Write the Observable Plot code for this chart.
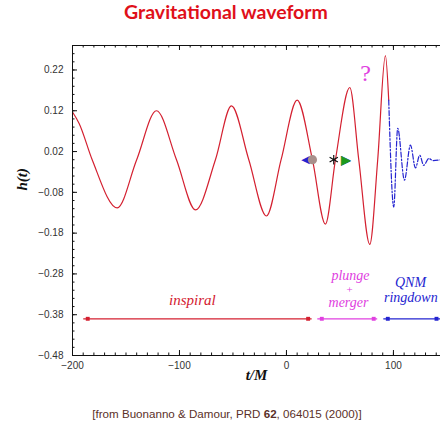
<!DOCTYPE html>
<html><head><meta charset="utf-8">
<script src="https://cdn.jsdelivr.net/npm/d3@7"></script>
<script src="https://cdn.jsdelivr.net/npm/@observablehq/plot@0.6"></script>
<style>
body{margin:0;background:#fff;overflow:hidden;width:440px;height:426px}
#title{height:26px;line-height:25px;text-align:center;font:bold 19.5px Lato,sans-serif;color:#e0101a;padding-left:12px}
#cap{margin-top:11px;line-height:13px;text-align:center;font:11.6px "Liberation Sans",Arial,sans-serif;color:#5a3028;padding-left:14px}
#chart svg{overflow:hidden;display:block}
</style></head><body>
<div id="title">Gravitational waveform</div>
<div id="chart"></div>
<div id="cap">[from Buonanno &amp; Damour, PRD <b>62</b>, 064015 (2000)]</div>
<script>
// inspiral + plunge waveform (red, solid): extrema and zero crossings
const inspiralT = [-200, -193.8, -181.6, -158.2, -140, -121.5, -102.8, -85, -66.4, -51.4, -35.2, -18.7, -5, 10, 24.3, 36.4, 45.8, 59.2, 67.6, 77.9, 85.3, 92.5, 95.6];
const inspiralH = [0.117, 0.089, 0, -0.118, 0, 0.12, 0, -0.123, 0, 0.132, 0, -0.138, 0, 0.146, 0, -0.158, 0, 0.177, 0, -0.2075, 0, 0.255, 0.146];
// QNM ringdown (blue, dash-dot)
const ringT = [95.6, 100.3, 104, 110.3, 115.9, 120.6, 124.6, 128.3, 133, 137, 144];
const ringH = [0.146, -0.116, 0.077, -0.05, 0.036, -0.02, 0.011, -0.014, 0.003, -0.002, 0];
// markers on the curve
const markT = [17.8, 24.3, 44.2, 55.5];
const markH = [0, 0, 0, 0];
// phase segments
const segStart = [-189.5, 29.3, 91];
const segEnd = [24, 85.3, 144];
const segH = [-0.39, -0.39, -0.39];
const segColor = ["#d42030", "#e040e0", "#2424d0"];
// phase labels
const labelText = ["inspiral", "plunge", "+", "merger", "QNM", "ringdown"];
const labelT = [-88, 59.8, 59, 58, 116, 91.2];
const labelH = [-0.345, -0.285, -0.318, -0.351, -0.302, -0.338];
const labelSize = [15, 14, 11, 14, 14, 14];
const labelColor = ["#d42030", "#e040e0", "#e040e0", "#e040e0", "#2424d0", "#2424d0"];
const labelAnchor = ["middle", "middle", "middle", "middle", "middle", "start"];
// ticks
const xMajor = [-200, -100, 0, 100];
const yMajor = [0.22, 0.12, 0.02, -0.08, -0.18, -0.28, -0.38, -0.48];
const xMinor = d3.range(-200, 145, 10);
const yMinor = d3.range(-0.48, 0.2801, 0.02);

const RED = "#d42030", BLUE = "#2424d0", MAG = "#e040e0";
const inspiral = inspiralT.map((t, i) => ({t, h: inspiralH[i]}));
const ring = ringT.map((t, i) => ({t, h: ringH[i]}));
const segs = segStart.map((s, i) => ({s, e: segEnd[i], h: segH[i], c: segColor[i]}));
const labels = labelText.map((s, i) => ({s, t: labelT[i], h: labelH[i], c: labelColor[i], a: labelAnchor[i], z: labelSize[i]}));
const IW = 440 - 72, IH = 310;
const labelMarks = labels.map(d => Plot.text([d], {x: "t", y: "h", text: "s", fill: "c", fontFamily: "'Liberation Serif', serif", fontStyle: "italic", fontSize: d.z, textAnchor: d.a}));

const chart = Plot.plot({
  width: 440, height: 370,
  marginLeft: 72, marginRight: 0, marginTop: 19, marginBottom: 41,
  x: {domain: [-200, 144]},
  y: {domain: [-0.48, 0.28]},
  style: {fontFamily: "'Liberation Sans', Arial, sans-serif", fontSize: "10px", color: "#333", background: "white", overflow: "hidden"},
  marks: [
    Plot.line(inspiral, {x: "t", y: "h", stroke: RED, strokeWidth: 1.2, curve: "monotone-x"}),
    Plot.line(ring, {x: "t", y: "h", stroke: BLUE, strokeWidth: 1.2, strokeDasharray: "5,2,1.5,2", curve: "monotone-x"}),
    // phase segments
    Plot.ruleY(segs, {y: "h", x1: "s", x2: "e", stroke: "c", strokeWidth: 1.2, clip: true}),
    Plot.dot(segs, {x: "s", y: "h", fill: "c", symbol: "square", r: 2.2, dx: 4}),
    Plot.dot(segs, {x: "e", y: "h", fill: "c", symbol: "square", r: 2.2, dx: -4}),
    ...labelMarks,
    // markers
    Plot.text([0], {x: () => markT[0], y: () => markH[0], text: () => "◀", fill: BLUE, fontSize: 11, fontFamily: "DejaVu Sans"}),
    Plot.dot([0], {x: () => markT[1], y: () => markH[1], r: 4.6, fill: "#a8908c"}),
    Plot.dot([0], {x: () => markT[2], y: () => markH[2], r: 4.5, symbol: "asterisk", stroke: "#111", strokeWidth: 1.2}),
    Plot.text([0], {x: () => markT[3], y: () => markH[3], text: () => "▶", fill: "#1c9a1c", stroke: "#0a3a0a", strokeWidth: 0.6, fontSize: 12, fontFamily: "DejaVu Sans"}),
    Plot.text([0], {x: () => 74, y: () => 0.213, text: () => "?", fill: MAG, fontSize: 24, fontFamily: "'Liberation Serif', serif"}),
    // frame
    Plot.ruleX([-200], {stroke: "#111"}),
    Plot.ruleY([-0.48, 0.28], {stroke: "#111"}),
    Plot.tickY(yMajor, {stroke: "#111", insetRight: IW - 5}),
    Plot.tickY(yMinor, {stroke: "#111", insetRight: IW - 2.5}),
    Plot.tickX(xMajor, {stroke: "#111", insetTop: IH - 5}),
    Plot.tickX(xMinor, {stroke: "#111", insetTop: IH - 2.5}),
    Plot.tickX(xMajor, {stroke: "#111", insetBottom: IH - 5}),
    Plot.tickX(xMinor, {stroke: "#111", insetBottom: IH - 2.5}),
    Plot.axisX({ticks: xMajor, tickSize: 0, tickPadding: 6, tickFormat: d3.format("d"), label: null}),
    Plot.axisY({ticks: yMajor, tickSize: 0, tickPadding: 9, tickFormat: d3.format(".2f"), label: null}),
    // axis titles
    Plot.text(["h(t)"], {frameAnchor: "left", dx: -50, dy: -10, rotate: -90, fontFamily: "'Liberation Serif', serif", fontStyle: "italic", fontWeight: "bold", fontSize: 15, fill: "#111"}),
    Plot.text(["t/M"], {frameAnchor: "bottom", dy: 24, fontFamily: "'Liberation Serif', serif", fontStyle: "italic", fontWeight: "bold", fontSize: 15, fill: "#111"})
  ]
});
document.getElementById("chart").append(chart);
</script>
</body></html>
